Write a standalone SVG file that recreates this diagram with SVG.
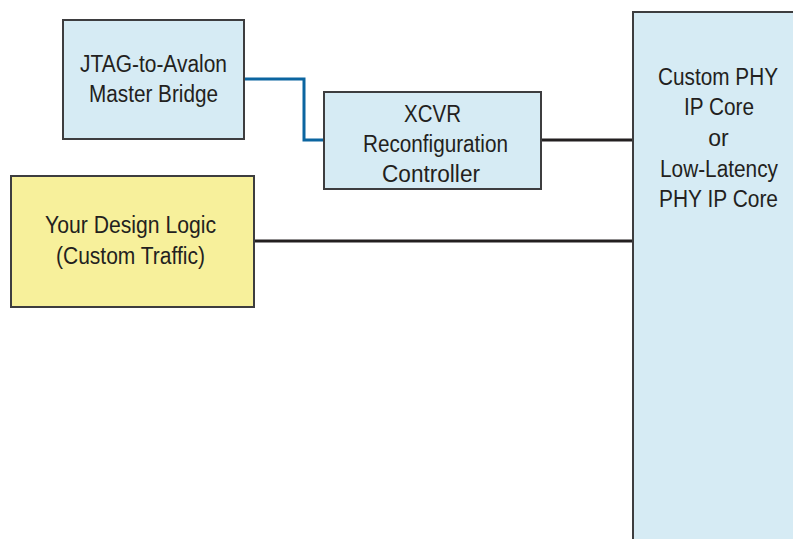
<svg xmlns="http://www.w3.org/2000/svg" width="793" height="539" viewBox="0 0 793 539">
<style>
.box{stroke:#3d3d3f;stroke-width:2}
.blue{fill:#d6ebf4}
.yellow{fill:#f7f09b}
text{font-family:"Liberation Sans",Arial,sans-serif;font-size:23px;fill:#231f20;text-anchor:middle}
.wire{fill:none;stroke-width:3}
</style>
<rect width="793" height="539" fill="#ffffff"/>
<g id="connectors">
<polyline class="wire" stroke="#0b65a0" points="244,79 304,79 304,140 324,140"/>
<line class="wire" stroke="#231f20" x1="541" y1="140" x2="632" y2="140"/>
<line class="wire" stroke="#231f20" x1="254" y1="241" x2="632" y2="241"/>
</g>
<g id="jtag">
<rect class="box blue" x="63" y="20" width="181" height="119"/>
<text x="153.5" y="72" textLength="147" lengthAdjust="spacingAndGlyphs">JTAG-to-Avalon</text>
<text x="153.5" y="102" textLength="129" lengthAdjust="spacingAndGlyphs">Master Bridge</text>
</g>
<g id="xcvr">
<rect class="box blue" x="324" y="92" width="217" height="97"/>
<text x="432.5" y="122" textLength="57" lengthAdjust="spacingAndGlyphs">XCVR</text>
<text x="435.5" y="152" textLength="145" lengthAdjust="spacingAndGlyphs">Reconfiguration</text>
<text x="431" y="182" textLength="98" lengthAdjust="spacingAndGlyphs">Controller</text>
</g>
<g id="design">
<rect class="box yellow" x="11" y="176" width="243" height="131"/>
<text x="130.5" y="233" textLength="171" lengthAdjust="spacingAndGlyphs">Your Design Logic</text>
<text x="130.5" y="264" textLength="149" lengthAdjust="spacingAndGlyphs">(Custom Traffic)</text>
</g>
<g id="phy">
<rect class="box blue" x="633" y="12" width="170" height="540"/>
<text x="718" y="85" textLength="120" lengthAdjust="spacingAndGlyphs">Custom PHY</text>
<text x="719" y="115" textLength="70" lengthAdjust="spacingAndGlyphs">IP Core</text>
<text x="718.5" y="146">or</text>
<text x="719" y="177" textLength="118" lengthAdjust="spacingAndGlyphs">Low-Latency</text>
<text x="718.5" y="207" textLength="119" lengthAdjust="spacingAndGlyphs">PHY IP Core</text>
</g>
</svg>
